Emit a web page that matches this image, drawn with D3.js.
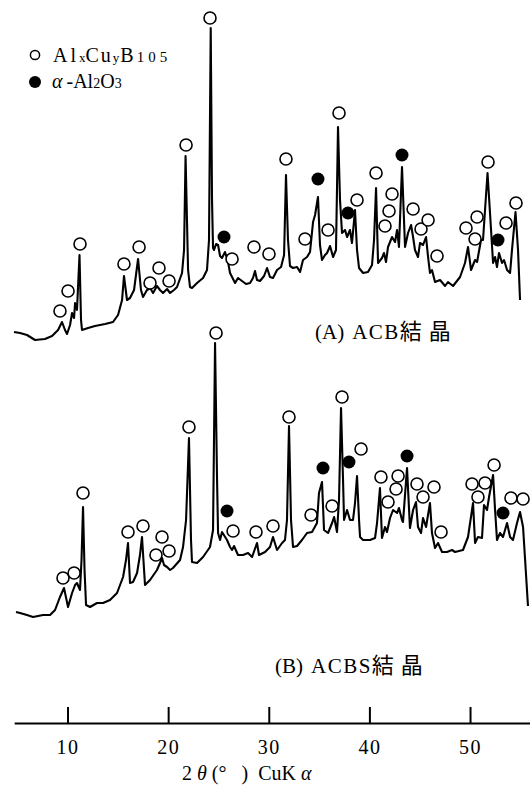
<!DOCTYPE html>
<html><head><meta charset="utf-8">
<script src="https://cdn.jsdelivr.net/npm/d3@7"></script>
<style>body{margin:0;background:#fff} .serif{font-family:"Liberation Serif","DejaVu Serif",serif} .cjk{font-family:"Noto Sans CJK JP","Noto Sans CJK SC",sans-serif}</style>
</head><body><svg id="c" width="530" height="798"></svg>
<script>
// 2θ (deg) , relative intensity — trace (A) ACB crystal
const traceA = [[4.68,8],[5.28,7],[5.97,5],[6.77,0],[7.76,1],[8.46,4],[9.06,10],[9.45,18],[9.75,10],[9.95,6],[10.25,15],[10.45,27],[10.65,22],[10.75,37],[10.94,30],[11.19,85],[11.34,20],[11.44,10],[12.04,12],[12.73,14],[13.73,16],[14.52,18],[15.02,25],[15.42,40],[15.61,64],[15.91,40],[16.21,42],[16.61,50],[17.01,81],[17.30,50],[17.50,43],[17.90,50],[18.20,52],[18.50,47],[18.89,54],[19.19,50],[19.49,47],[19.89,51],[20.19,47],[20.58,50],[20.88,53],[21.38,67],[21.58,90],[21.73,184],[21.98,70],[22.17,53],[22.37,52],[22.87,57],[23.47,62],[23.86,70],[24.06,100],[24.23,312],[24.36,140],[24.46,92],[24.56,90],[24.76,96],[24.96,95],[25.16,84],[25.35,82],[25.65,88],[25.95,78],[26.15,67],[26.65,57],[26.94,62],[27.34,59],[27.74,56],[28.14,57],[28.43,62],[28.63,69],[28.83,60],[29.13,59],[29.53,64],[29.83,72],[30.12,63],[30.42,62],[30.82,70],[31.22,73],[31.52,85],[31.71,165],[31.91,100],[32.11,74],[32.41,72],[32.81,73],[33.11,68],[33.40,80],[33.80,83],[34.10,88],[34.40,118],[34.60,125],[34.89,143],[35.09,95],[35.29,80],[35.59,85],[35.79,87],[36.09,94],[36.39,83],[36.68,90],[36.88,213],[37.08,140],[37.28,107],[37.58,110],[37.78,103],[38.07,110],[38.27,97],[38.57,130],[38.77,90],[38.97,72],[39.37,67],[39.86,68],[40.26,75],[40.46,100],[40.66,152],[40.86,77],[41.25,82],[41.45,87],[41.65,78],[41.85,93],[42.25,103],[42.55,98],[42.75,110],[42.94,93],[43.24,173],[43.54,93],[43.84,107],[44.14,115],[44.34,103],[44.53,90],[44.83,83],[45.03,97],[45.33,95],[45.63,103],[45.83,83],[46.02,67],[46.22,70],[46.52,58],[47.02,60],[47.52,54],[47.81,58],[48.31,54],[49.01,63],[49.50,77],[49.80,93],[50.10,70],[50.50,80],[50.70,78],[51.09,100],[51.29,100],[51.74,167],[52.09,110],[52.29,77],[52.49,83],[52.68,73],[52.88,87],[53.18,77],[53.38,80],[53.68,70],[53.98,67],[54.17,90],[54.52,128],[54.77,90],[54.97,40]];
// trace (B) ACBS crystal
const traceB = [[4.88,8],[5.28,7],[5.97,5],[6.57,3],[7.57,5],[8.26,5],[8.76,10],[9.25,23],[9.65,32],[10.05,13],[10.45,27],[10.75,35],[10.94,37],[11.24,30],[11.39,60],[11.54,113],[11.69,50],[11.84,15],[12.24,13],[12.93,17],[13.53,17],[14.22,20],[14.92,27],[15.52,43],[15.81,60],[16.01,77],[16.21,37],[16.51,38],[16.91,47],[17.20,65],[17.40,83],[17.70,35],[18.20,40],[18.89,50],[19.19,57],[19.39,62],[19.59,55],[19.89,53],[20.19,50],[20.48,52],[21.18,60],[21.48,73],[21.78,100],[22.07,182],[22.27,80],[22.37,58],[22.87,57],[23.47,63],[24.16,73],[24.46,90],[24.66,277],[24.86,140],[24.96,87],[25.16,80],[25.35,88],[25.85,80],[26.15,73],[26.35,70],[26.55,74],[26.94,65],[27.44,65],[27.94,67],[28.34,63],[28.83,77],[29.03,65],[29.63,68],[30.12,73],[30.42,83],[30.82,70],[31.32,77],[31.61,80],[31.81,100],[32.01,194],[32.21,100],[32.41,73],[32.81,74],[33.30,80],[33.80,87],[34.30,88],[34.79,97],[34.99,127],[35.29,138],[35.49,90],[35.89,87],[36.29,97],[36.49,103],[36.78,88],[36.98,120],[37.18,212],[37.38,140],[37.48,100],[37.78,110],[38.07,100],[38.37,100],[38.57,117],[38.77,144],[38.97,100],[39.07,83],[39.37,80],[40.06,80],[40.56,82],[40.76,97],[41.05,132],[41.25,82],[41.55,93],[41.75,88],[42.05,102],[42.35,110],[42.75,107],[42.94,112],[43.24,100],[43.34,98],[43.74,152],[44.03,92],[44.34,110],[44.63,118],[44.83,93],[45.13,87],[45.33,102],[45.63,93],[46.02,117],[46.22,87],[46.52,72],[46.82,77],[47.22,68],[47.71,68],[48.21,70],[48.51,68],[49.30,70],[49.80,83],[50.30,117],[50.50,77],[50.79,83],[51.19,82],[51.39,115],[51.69,110],[51.89,123],[52.29,145],[52.49,110],[52.68,80],[52.98,87],[53.28,83],[53.68,97],[53.98,83],[54.27,80],[54.67,97],[54.97,108],[55.27,93],[55.76,14]];

// phase markers: [2θ, marker level]
const openA = [[9.25,29],[10.05,49],[11.24,96],[15.61,76],[17.11,93],[18.20,57],[19.09,72],[20.09,59],[21.78,195],[24.16,322],[26.35,81],[28.53,93],[30.02,86],[31.71,181],[33.60,101],[35.89,110],[36.98,227],[38.77,140],[40.66,167],[41.55,114],[41.95,129],[42.25,146],[44.34,131],[45.13,111],[45.83,120],[46.72,84],[49.60,112],[50.70,123],[50.50,101],[51.79,178],[53.58,117],[54.57,137]];
const filledA = [[25.55,103],[34.89,161],[37.87,127],[43.24,185],[52.78,100]];
const openB = [[9.55,42],[10.65,47],[11.54,127],[16.01,88],[17.50,94],[18.79,65],[19.39,83],[20.09,69],[22.07,193],[24.76,287],[26.45,89],[28.73,88],[30.42,94],[32.01,203],[34.20,105],[36.29,114],[37.28,223],[39.17,171],[41.15,143],[41.85,118],[42.65,131],[42.85,144],[44.73,136],[45.33,123],[46.42,133],[47.12,88],[50.20,136],[50.79,123],[51.49,137],[52.39,155],[54.07,122],[55.27,121]];
const filledB = [[25.85,109],[35.39,152],[37.97,158],[43.74,164],[53.28,107]];

const tickValues = [10,20,30,40,50];
const seriesLabels = ["(A)", "ACB", "結晶", "(B)", "ACBS", "結晶"];

const svg = d3.select('#c');
const x = d3.scaleLinear().domain([4.7,56]).range([14.2,530.4]);
const yA = d3.scaleLinear().domain([0,320]).range([340,20]);
const yB = d3.scaleLinear().domain([0,320]).range([620,300]);

function drawTrace(trace, y, open, filled){
  svg.append('path').datum(trace)
    .attr('d', d3.line().x(d=>x(d[0])).y(d=>y(d[1])))
    .attr('fill','none').attr('stroke','#000').attr('stroke-width',2.1)
    .attr('stroke-linejoin','round');
  svg.append('g').selectAll('circle').data(open).join('circle')
    .attr('cx',d=>x(d[0])).attr('cy',d=>y(d[1])).attr('r',6)
    .attr('fill','#fff').attr('stroke','#000').attr('stroke-width',1.6);
  svg.append('g').selectAll('circle').data(filled).join('circle')
    .attr('cx',d=>x(d[0])).attr('cy',d=>y(d[1])).attr('r',6.5)
    .attr('fill','#000');
}
drawTrace(traceA, yA, openA, filledA);
drawTrace(traceB, yB, openB, filledB);

// axis
const axis = d3.axisBottom(x).tickValues(tickValues).tickSizeInner(-16).tickSizeOuter(0)
  .tickPadding(17).tickFormat(d3.format('d'));
const g = svg.append('g').attr('transform','translate(0,723)').call(axis);
g.attr('font-family',null).attr('font-size',null);
g.select('.domain').attr('stroke','#000').attr('stroke-width',2);
g.selectAll('.tick line').attr('stroke','#000').attr('stroke-width',2);
g.selectAll('.tick text').attr('class','serif').style('font-size','20px')
  .attr('letter-spacing',1.5).attr('fill','#000');

// axis title
const t = svg.append('text').attr('class','serif').attr('x',182).attr('y',780)
  .style('font-size','20px').attr('fill','#000').attr('xml:space','preserve');
t.append('tspan').text('2 ');
t.append('tspan').attr('font-style','italic').text('θ');
t.append('tspan').text(' (°   )  CuK ');
t.append('tspan').attr('font-style','italic').text('α');

// sample labels
function label(xp, yp, parts){
  const tx = svg.append('text').attr('x',xp).attr('y',yp).style('font-size','21px').attr('fill','#000');
  tx.append('tspan').attr('class','serif').text(parts[0]);
  tx.append('tspan').attr('class','serif').attr('dx',8).attr('letter-spacing',1.5).text(parts[1]);
  tx.append('tspan').attr('class','cjk').style('font-size','22px').attr('letter-spacing',7).text(parts[2]);
}
label(315, 339, seriesLabels.slice(0,3));
label(275, 673, seriesLabels.slice(3,6));

// legend
svg.append('circle').attr('cx',35).attr('cy',55).attr('r',4.6).attr('fill','#fff')
  .attr('stroke','#000').attr('stroke-width',1.5);
svg.append('circle').attr('cx',35).attr('cy',82).attr('r',6).attr('fill','#000');
const l1 = svg.append('text').attr('class','serif').attr('x',53).attr('y',62)
  .style('font-size','20px').attr('fill','#000');
l1.append('tspan').attr('letter-spacing',3).text('Al');
l1.append('tspan').style('font-size','13px').text('x');
l1.append('tspan').attr('letter-spacing',2).text('Cu');
l1.append('tspan').style('font-size','13px').text('y');
l1.append('tspan').attr('dx',1).text('B');
l1.append('tspan').attr('dx',3).style('font-size','15px').attr('letter-spacing',4).text('105');
const l2 = svg.append('text').attr('class','serif').attr('x',52).attr('y',88)
  .style('font-size','20px').attr('fill','#000');
l2.append('tspan').attr('font-style','italic').text('α');
l2.append('tspan').attr('dx',4).text('-Al');
l2.append('tspan').style('font-size','14px').text('2');
l2.append('tspan').text('O');
l2.append('tspan').style('font-size','14px').text('3');
</script></body></html>
